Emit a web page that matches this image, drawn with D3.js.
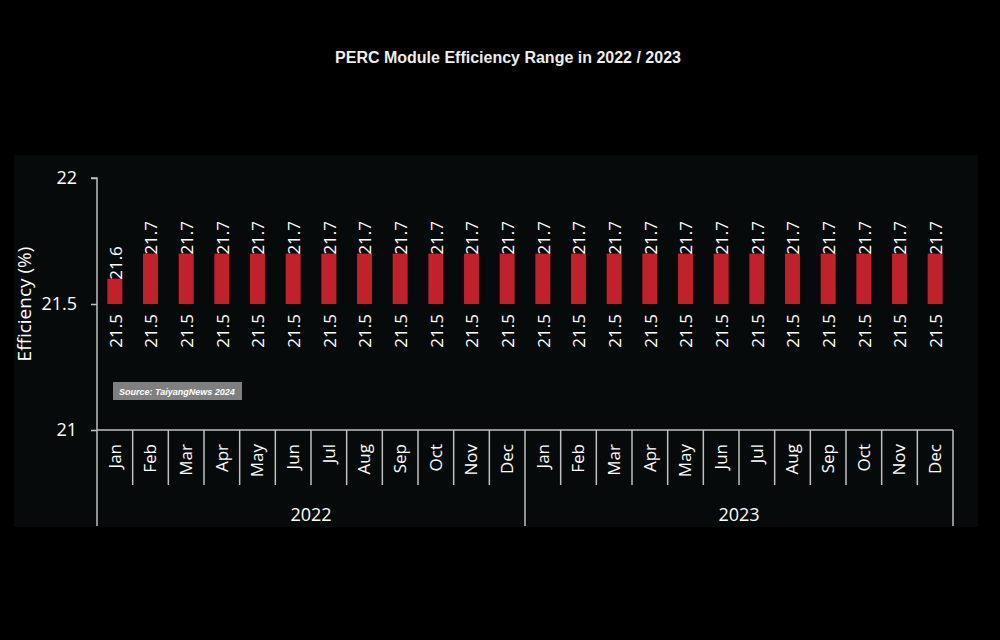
<!DOCTYPE html>
<html>
<head>
<meta charset="utf-8">
<script src="https://cdn.jsdelivr.net/npm/d3@7"></script>
<style>
  body { margin: 0; background: #000; }
  svg { display: block; }
  .axis path, .axis line { stroke: #bfbfbf; stroke-width: 1.5; }
  .axis text { fill: #fff; font-family: "Open Sans", sans-serif; font-size: 18px; }
</style>
</head>
<body>
<script>
// data
var months = ["Jan","Feb","Mar","Apr","May","Jun","Jul","Aug","Sep","Oct","Nov","Dec"];
var years = ["2022", "2023"];
var lowValues = [21.5,21.5,21.5,21.5,21.5,21.5,21.5,21.5,21.5,21.5,21.5,21.5,
                 21.5,21.5,21.5,21.5,21.5,21.5,21.5,21.5,21.5,21.5,21.5,21.5];
var highValues = [21.6,21.7,21.7,21.7,21.7,21.7,21.7,21.7,21.7,21.7,21.7,21.7,
                  21.7,21.7,21.7,21.7,21.7,21.7,21.7,21.7,21.7,21.7,21.7,21.7];
var yTicks = [21, 21.5, 22];

var w = 1000, h = 640;
var plotLeft = 97, plotRight = 953, plotTop = 178, plotBottom = 430;

var dataset = [];
years.forEach(function(y, yi) {
  months.forEach(function(m, mi) {
    var i = yi * 12 + mi;
    dataset.push({ key: y + "-" + m, year: y, month: m, low: lowValues[i], high: highValues[i] });
  });
});

var svg = d3.select("body").append("svg")
  .attr("width", w)
  .attr("height", h);

svg.append("rect").attr("width", w).attr("height", h).attr("fill", "#000");
svg.append("rect")
  .attr("x", 14).attr("y", 155)
  .attr("width", 964).attr("height", 372)
  .attr("fill", "#070a0b");

svg.append("text")
  .attr("x", 508).attr("y", 63)
  .attr("text-anchor", "middle")
  .attr("fill", "#ececec")
  .style("font-family", "Liberation Sans, Arial, sans-serif")
  .style("font-weight", "bold")
  .style("font-size", "16px")
  .text("PERC Module Efficiency Range in 2022 / 2023");

// scales
var xScale = d3.scaleBand()
  .domain(dataset.map(function(d) { return d.key; }))
  .range([plotLeft, plotRight])
  .paddingInner(0.58)
  .paddingOuter(0.29);
var step = xScale.step();

var yScale = d3.scaleLinear()
  .domain([21, 22])
  .range([plotBottom, plotTop]);

// y axis
var yAxis = d3.axisLeft(yScale)
  .tickValues(yTicks)
  .tickSize(6)
  .tickPadding(14)
  .tickFormat(function(d) { return d3.format("")(d); });

var yg = svg.append("g")
  .attr("class", "axis")
  .attr("transform", "translate(" + plotLeft + ",0)")
  .call(yAxis);
yg.select(".domain").attr("d", "M-6," + plotTop + "H0V" + (plotBottom + 96));

svg.append("text")
  .attr("transform", "translate(31," + ((plotTop + plotBottom) / 2) + ") rotate(-90)")
  .attr("text-anchor", "middle")
  .attr("fill", "#fff")
  .style("font-family", "Open Sans, sans-serif")
  .style("font-size", "19px")
  .text("Efficiency (%)");

// bars
svg.selectAll("rect.bar")
  .data(dataset)
  .enter()
  .append("rect")
  .attr("class", "bar")
  .attr("x", function(d) { return xScale(d.key); })
  .attr("width", xScale.bandwidth())
  .attr("y", function(d) { return yScale(d.high); })
  .attr("height", function(d) { return yScale(d.low) - yScale(d.high); })
  .attr("fill", "#c0212a");

var labelStyle = function(sel) {
  sel.attr("fill", "#fff")
    .style("font-family", "Open Sans, sans-serif")
    .style("font-size", "17px");
};

svg.selectAll("text.high")
  .data(dataset)
  .enter()
  .append("text")
  .attr("class", "high")
  .attr("transform", function(d) {
    return "translate(" + (xScale(d.key) + xScale.bandwidth() / 2 + 1) + "," + (yScale(d.high) + 1) + ") rotate(-90)";
  })
  .attr("dy", "0.35em")
  .attr("text-anchor", "start")
  .call(labelStyle)
  .text(function(d) { return d.high.toFixed(1); });

svg.selectAll("text.low")
  .data(dataset)
  .enter()
  .append("text")
  .attr("class", "low")
  .attr("transform", function(d) {
    return "translate(" + (xScale(d.key) + xScale.bandwidth() / 2 + 1) + "," + (yScale(d.low) + 10) + ") rotate(-90)";
  })
  .attr("dy", "0.35em")
  .attr("text-anchor", "end")
  .call(labelStyle)
  .text(function(d) { return d.low.toFixed(1); });

// source box
var src = svg.append("g").attr("transform", "translate(113,382)");
src.append("rect").attr("width", 129).attr("height", 18).attr("fill", "#7f7f7f");
src.append("text")
  .attr("x", 6).attr("y", 12.5)
  .attr("fill", "#fff")
  .style("font-family", "Liberation Sans, Arial, sans-serif")
  .style("font-size", "9px")
  .style("font-weight", "bold")
  .style("font-style", "italic")
  .text("Source: TaiyangNews 2024");

// x axis: months + years
var xg = svg.append("g").attr("class", "axis");
xg.append("line")
  .attr("x1", plotLeft).attr("x2", plotRight)
  .attr("y1", plotBottom).attr("y2", plotBottom);

xg.selectAll("line.mdiv")
  .data(dataset.slice(1))
  .enter()
  .append("line")
  .attr("class", "mdiv")
  .attr("x1", function(d) { return xScale(d.key) - xScale.paddingInner() * step / 2; })
  .attr("x2", function(d) { return xScale(d.key) - xScale.paddingInner() * step / 2; })
  .attr("y1", plotBottom)
  .attr("y2", function(d) { return d.month === "Jan" ? plotBottom + 96 : plotBottom + 55; });

xg.append("line")
  .attr("x1", plotRight).attr("x2", plotRight)
  .attr("y1", plotBottom).attr("y2", plotBottom + 96);

xg.selectAll("text.month")
  .data(dataset)
  .enter()
  .append("text")
  .attr("class", "month")
  .attr("transform", function(d) {
    return "translate(" + (xScale(d.key) + xScale.bandwidth() / 2) + "," + (plotBottom + 14) + ") rotate(-90)";
  })
  .attr("dy", "0.35em")
  .attr("text-anchor", "end")
  .style("font-size", "17px")
  .text(function(d) { return d.month; });

xg.selectAll("text.year")
  .data(years)
  .enter()
  .append("text")
  .attr("class", "year")
  .attr("x", function(y, i) { return plotLeft + step * 12 * i + step * 6; })
  .attr("y", plotBottom + 91)
  .attr("text-anchor", "middle")
  .text(function(y) { return y; });
</script>
</body>
</html>
